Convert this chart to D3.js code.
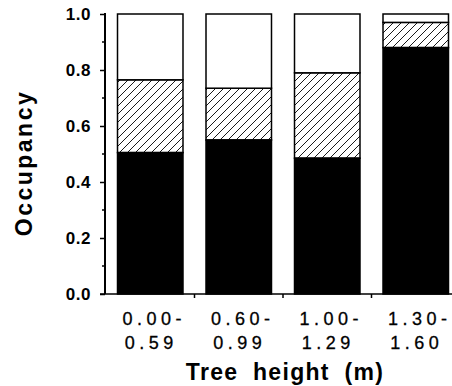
<!DOCTYPE html>
<html>
<head>
<meta charset="utf-8">
<script src="https://cdn.jsdelivr.net/npm/d3@7"></script>
<style>
  html, body { margin: 0; padding: 0; background: #fff; }
  svg { display: block; font-family: "Liberation Sans", Arial, sans-serif; }
</style>
</head>
<body>
<svg width="452" height="386"></svg>
<script>
const categories = ["0.00-0.59", "0.60-0.99", "1.00-1.29", "1.30-1.60"];
const labelTop = ["0.00-", "0.60-", "1.00-", "1.30-"];
const labelBottom = ["0.59", "0.99", "1.29", "1.60"];
// three stacked parts of occupancy, bottom to top
const solid = [0.505, 0.55, 0.485, 0.88];
const hatched = [0.26, 0.185, 0.305, 0.09];
const empty = [0.235, 0.265, 0.21, 0.03];
const yTicks = [0, 0.2, 0.4, 0.6, 0.8, 1.0];

const svg = d3.select("svg");

const rows = categories.map((c, i) => ({
  cat: c,
  solid: solid[i],
  hatched: hatched[i],
  empty: empty[i]
}));

const x = d3.scaleBand()
  .domain(categories)
  .range([106, 460])
  .paddingInner(0.26)
  .paddingOuter(0.13);

const y = d3.scaleLinear().domain([0, 1]).range([294, 14]);

const defs = svg.append("defs");
defs.append("pattern")
  .attr("id", "hatch")
  .attr("patternUnits", "userSpaceOnUse")
  .attr("width", 8)
  .attr("height", 8)
  .append("path")
  .attr("d", "M-2,2 L2,-2 M0,8 L8,0 M6,10 L10,6")
  .attr("stroke", "#000")
  .attr("stroke-width", 0.9);

const fills = { solid: "#000", hatched: "url(#hatch)", empty: "#fff" };

const series = d3.stack().keys(["solid", "hatched", "empty"])(rows);

svg.append("g")
  .selectAll("g")
  .data(series)
  .join("g")
  .attr("fill", (d) => fills[d.key])
  .selectAll("rect")
  .data((d) => d)
  .join("rect")
  .attr("x", (d) => x(d.data.cat))
  .attr("width", x.bandwidth())
  .attr("y", (d) => y(d[1]))
  .attr("height", (d) => y(d[0]) - y(d[1]))
  .attr("stroke", "#000")
  .attr("stroke-width", 1.5);

// y axis
const yAxis = svg.append("g")
  .attr("transform", "translate(105,0)")
  .call(d3.axisLeft(y).tickValues(yTicks).tickSize(5).tickFormat(d3.format(".1f")));
yAxis.select(".domain").attr("stroke-width", 2).attr("d", "M0,13V294");
yAxis.selectAll(".tick line").attr("stroke-width", 1.5);
yAxis.selectAll(".tick text")
  .attr("x", -14)
  .attr("font-size", 17)
  .attr("font-weight", "bold")
  .attr("letter-spacing", "0.5px")
  .attr("font-family", "Liberation Sans, Arial, sans-serif")
  .attr("fill", "#000");

// minor ticks
svg.append("g")
  .selectAll("line")
  .data(d3.range(0.1, 1, 0.2))
  .join("line")
  .attr("x1", 102)
  .attr("x2", 105)
  .attr("y1", (d) => y(d))
  .attr("y2", (d) => y(d))
  .attr("stroke", "#000")
  .attr("stroke-width", 1.5);

// x axis
const xAxis = svg.append("g").attr("transform", "translate(0,294)");
xAxis.append("line")
  .attr("x1", 100)
  .attr("x2", 452)
  .attr("stroke", "#000")
  .attr("stroke-width", 1.5);
xAxis.selectAll(".sep")
  .data(categories.slice(1))
  .join("line")
  .attr("class", "sep")
  .attr("x1", (d) => x(d) - (x.step() - x.bandwidth()) / 2)
  .attr("x2", (d) => x(d) - (x.step() - x.bandwidth()) / 2)
  .attr("y1", 0)
  .attr("y2", 4)
  .attr("stroke", "#000")
  .attr("stroke-width", 1.5);

const lab = svg.append("g")
  .attr("font-size", 18)
  .attr("letter-spacing", "4.5px")
  .attr("text-anchor", "middle")
  .attr("stroke", "#000")
  .attr("stroke-width", 0.3)
  .attr("fill", "#000");
lab.selectAll(".lt")
  .data(categories)
  .join("text")
  .attr("class", "lt")
  .attr("x", (d) => x(d) + x.bandwidth() / 2 + 4)
  .attr("y", 325)
  .text((d, i) => labelTop[i]);
lab.selectAll(".lb")
  .data(categories)
  .join("text")
  .attr("class", "lb")
  .attr("x", (d) => x(d) + x.bandwidth() / 2 + 1)
  .attr("y", 349)
  .text((d, i) => labelBottom[i]);

svg.append("text")
  .attr("x", 285)
  .attr("y", 380)
  .attr("text-anchor", "middle")
  .attr("font-size", 23)
  .attr("font-weight", "bold")
  .attr("letter-spacing", "1.3px")
  .attr("word-spacing", "7px")
  .text("Tree height (m)");

svg.append("text")
  .attr("transform", "translate(32,163) rotate(-90)")
  .attr("text-anchor", "middle")
  .attr("font-size", 23)
  .attr("font-weight", "bold")
  .attr("letter-spacing", "2.5px")
  .text("Occupancy");
</script>
</body>
</html>
